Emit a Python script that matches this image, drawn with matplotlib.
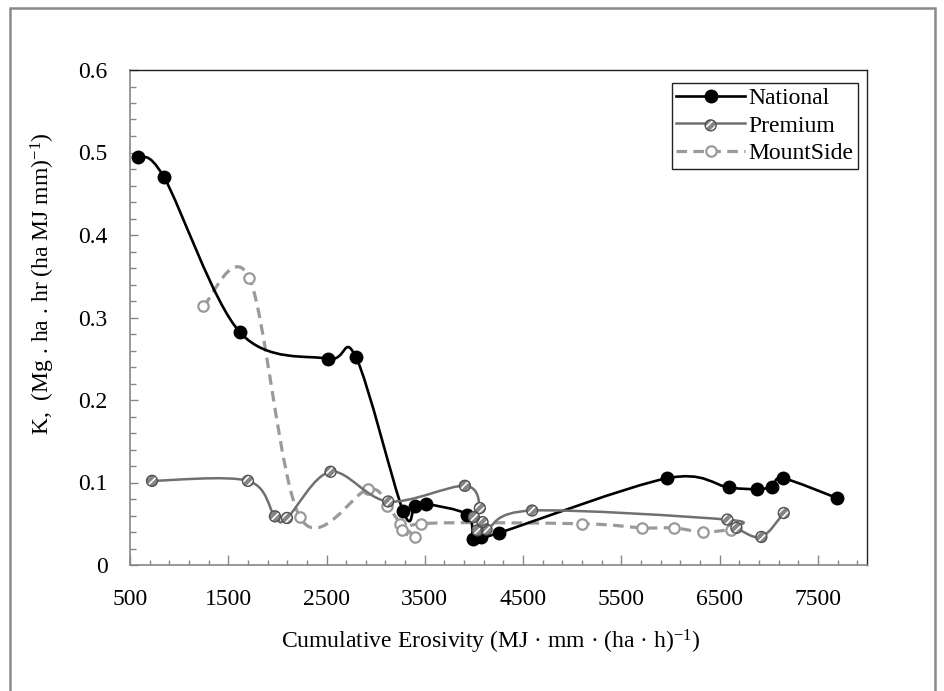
import matplotlib
matplotlib.use('Agg')
import matplotlib.pyplot as plt
from matplotlib.path import Path
from matplotlib.patches import PathPatch, Rectangle
from matplotlib.lines import Line2D
from matplotlib.legend_handler import HandlerTuple
from matplotlib.ticker import FixedLocator, FixedFormatter

# Data
national_x = [584, 846, 1619, 2511, 2799, 3280, 3399, 3511, 3932, 3992, 4077, 4257,
              5960, 6594, 6882, 7037, 7146, 7698]
national_k = [0.495, 0.470, 0.282, 0.250, 0.252, 0.065, 0.072, 0.074, 0.061, 0.032, 0.034, 0.039,
              0.105, 0.094, 0.092, 0.095, 0.105, 0.081]

premium_x = [724, 1700, 1975, 2097, 2541, 3128, 3908, 4060, 4000, 4087, 4036, 4128, 4592,
             6579, 6671, 6925, 7153]
premium_k = [0.102, 0.102, 0.059, 0.057, 0.113, 0.077, 0.096, 0.069, 0.058, 0.052, 0.042, 0.043, 0.066,
             0.055, 0.045, 0.034, 0.063]

mountside_x = [1246, 1714, 2229, 2925, 3117, 3247, 3264, 3399, 3457, 5095, 5715, 6034, 6332, 6620]
mountside_k = [0.314, 0.348, 0.058, 0.092, 0.072, 0.050, 0.042, 0.034, 0.050, 0.050, 0.045, 0.045, 0.040, 0.043]

x_major = [500, 1500, 2500, 3500, 4500, 5500, 6500, 7500]
y_major = [0, 0.1, 0.2, 0.3, 0.4, 0.5, 0.6]
y_labels = ['0', '0.1', '0.2', '0.3', '0.4', '0.5', '0.6']

plt.rcParams['font.family'] = ['Liberation Serif', 'DejaVu Serif']
plt.rcParams['mathtext.fontset'] = 'custom'
plt.rcParams['mathtext.rm'] = 'Liberation Serif'
plt.rcParams['mathtext.default'] = 'regular'
plt.rcParams['hatch.linewidth'] = 1.2
plt.rcParams['hatch.color'] = 'white'

FS = 17
AXIS_GRAY = '#868686'


def smooth_path(xs, ys):
    # Excel-like smoothed line: Catmull-Rom through the points as cubic Beziers
    pts = list(zip(xs, ys))
    n = len(pts)
    verts = [pts[0]]
    codes = [Path.MOVETO]
    for i in range(n - 1):
        p0 = pts[i - 1] if i > 0 else pts[i]
        p1 = pts[i]
        p2 = pts[i + 1]
        p3 = pts[i + 2] if i + 2 < n else pts[i + 1]
        c1 = (p1[0] + (p2[0] - p0[0]) / 6, p1[1] + (p2[1] - p0[1]) / 6)
        c2 = (p2[0] - (p3[0] - p1[0]) / 6, p2[1] - (p3[1] - p1[1]) / 6)
        verts += [c1, c2, p2]
        codes += [Path.CURVE4] * 3
    return Path(verts, codes)


fig = plt.figure(figsize=(9.45, 6.91), dpi=100)
ax = fig.add_axes([130 / 945, 1 - 565 / 691, 737 / 945, 495 / 691])

# outer chart border
fig.patches.append(Rectangle((10 / 945, -0.05), 925 / 945, 1 - 8 / 691 + 0.05,
                             transform=fig.transFigure, fill=False,
                             edgecolor='#8a8a8a', linewidth=1.8))

# MountSide
ms_style = dict(color='#9a9a9a', linewidth=2.3, linestyle=(0, (3.3, 2.0)))
ax.add_patch(PathPatch(smooth_path(mountside_x, mountside_k), fill=False, zorder=2,
                       capstyle='butt', **ms_style))
ax.plot(mountside_x, mountside_k, linestyle='none', marker='o', ms=7.5,
        mfc='white', mec='#9a9a9a', mew=1.6, zorder=2.5)

# National
ax.add_patch(PathPatch(smooth_path(national_x, national_k), fill=False, zorder=3,
                       edgecolor='black', linewidth=1.9))
ax.plot(national_x, national_k, linestyle='none', marker='o', ms=9,
        mfc='black', mec='black', zorder=3.5)

# Premium
ax.add_patch(PathPatch(smooth_path(premium_x, premium_k), fill=False, zorder=4,
                       edgecolor='#707070', linewidth=1.8))
prem_fill = ax.scatter(premium_x, premium_k, s=62, facecolor='#858585', edgecolor='white',
                       hatch='////', linewidth=0, zorder=4.5)
prem_edge = ax.scatter(premium_x, premium_k, s=62, facecolor='none', edgecolor='#505050',
                       linewidth=1.0, zorder=4.6)

ax.set_xlim(500, 8000)
ax.set_ylim(0, 0.6)
ax.xaxis.set_major_locator(FixedLocator(x_major))
ax.xaxis.set_minor_locator(FixedLocator(list(range(500, 8001, 200))))
ax.yaxis.set_major_locator(FixedLocator(y_major))
ax.yaxis.set_major_formatter(FixedFormatter(y_labels))
ax.yaxis.set_minor_locator(FixedLocator([i * 0.02 for i in range(31)]))

ax.tick_params(axis='x', which='major', direction='in', length=7.2, width=1,
               color=AXIS_GRAY, labelsize=FS, pad=17)
ax.tick_params(axis='x', which='minor', direction='in', length=3.6, width=1, color=AXIS_GRAY)
ax.tick_params(axis='y', which='major', direction='in', length=5.5, width=1,
               color=AXIS_GRAY, labelsize=FS, pad=16)
ax.tick_params(axis='y', which='minor', direction='in', length=4.5, width=1, color=AXIS_GRAY)

for side in ['left', 'bottom']:
    ax.spines[side].set_color(AXIS_GRAY)
    ax.spines[side].set_linewidth(1.2)
for side in ['top', 'right']:
    ax.spines[side].set_color('#222222')
    ax.spines[side].set_linewidth(1.0)

fig.text(491 / 945, 1 - 642 / 691, 'Cumulative Erosivity (MJ \u00b7 mm \u00b7 (ha \u00b7 h)$^{-1}$)',
         ha='center', va='center', fontsize=FS)
fig.text(43 / 945, 1 - 284 / 691, 'K,  (Mg . ha . hr (ha MJ mm)$^{-1}$)',
         ha='center', va='center', rotation=90, fontsize=FS)

h_nat = Line2D([], [], color='black', linewidth=1.9, marker='o', ms=9)
h_prem_line = Line2D([], [], color='#707070', linewidth=1.8)
h_ms = Line2D([], [], marker='o', ms=7.5, mfc='white', mec='#9a9a9a', mew=1.6, **ms_style)
leg = ax.legend([h_nat, (h_prem_line, prem_fill, prem_edge), h_ms],
                ['National', 'Premium', 'MountSide'],
                handler_map={tuple: HandlerTuple(ndivide=1, pad=0)},
                loc='upper right', bbox_to_anchor=(0.988, 0.974), borderaxespad=0,
                fontsize=FS, frameon=True, fancybox=False, framealpha=1,
                edgecolor='#222222', handlelength=2.9, handletextpad=0.15,
                labelspacing=0.25, borderpad=0.2, scatterpoints=1)
leg.get_frame().set_linewidth(1.0)
leg.set_zorder(10)

fig.savefig('out.png', dpi=100)
